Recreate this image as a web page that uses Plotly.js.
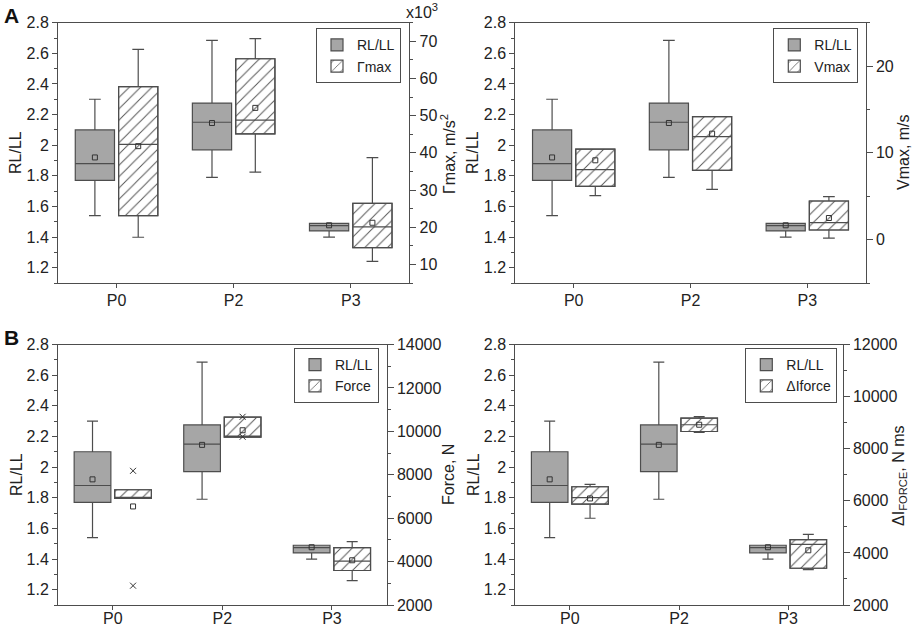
<!DOCTYPE html>
<html>
<head>
<meta charset="utf-8">
<script src="https://cdn.plot.ly/plotly-3.0.1.min.js"></script>
<style>
  body { margin: 0; background: #fff; }
  #graph { width: 913px; height: 629px; }
</style>
</head>
<body>
<div id="graph"></div>
<script>
// categories
var cats = ['P0', 'P2', 'P3'];

// RL/LL (same in every panel)
var rlMin  = [1.54, 1.79, 1.40];
var rlQ1   = [1.77, 1.97, 1.44];
var rlMed  = [1.88, 2.15, 1.475];
var rlQ3   = [2.10, 2.275, 1.49];
var rlMax  = [2.30, 2.685, 1.49];
var rlMean = [1.92, 2.145, 1.477];

// Γmax, x10^3 m/s²
var gMin  = [17.3, 34.8, 10.8];
var gQ1   = [23.1, 45.1, 14.5];
var gMed  = [42.3, 48.8, 20.1];
var gQ3   = [57.8, 65.3, 26.4];
var gMax  = [67.8, 70.7, 38.7];
var gMean = [41.8, 52.1, 21.2];

// Vmax, m/s
var vMin  = [5.07, 5.79, 0.18];
var vQ1   = [6.14, 7.98, 1.11];
var vMed  = [8.06, 11.87, 1.96];
var vQ3   = [10.44, 14.17, 4.45];
var vMax  = [10.44, 14.17, 4.95];
var vMean = [9.14, 12.21, 2.49];

// Force, N
var fMin  = [6910, 9730, 3120];
var fQ1   = [6910, 9730, 3590];
var fMed  = [6960, 9780, 4020];
var fQ3   = [7310, 10650, 4640];
var fMax  = [7310, 10650, 4920];
var fMean = [6540, 10050, 4060];
var fCrossCat = ['P0', 'P0', 'P2', 'P2'];
var fCrossVal = [8180, 2890, 10670, 9750];

// ΔIforce, N ms
var iMin  = [5330, 8630, 3360];
var iQ1   = [5870, 8660, 3410];
var iMed  = [6120, 8920, 4330];
var iQ3   = [6540, 9170, 4510];
var iMax  = [6630, 9230, 4710];
var iMean = [6090, 8920, 4100];

var off = 0.185, bw = 0.335;
var lineCol = '#4d4d4d';
var posL = cats.map(function(c, i) { return i - off; });
var posR = cats.map(function(c, i) { return i + off; });
function catPos(c) { return cats.indexOf(c) + off; }

var data = [];

function panel(xa, yl, yr, leg, name, st, cross) {
  // grey RL/LL box
  data.push({
    type: 'box', xaxis: xa, yaxis: yl, legend: leg, name: 'RL/LL',
    x: posL, q1: rlQ1, median: rlMed, q3: rlQ3, lowerfence: rlMin, upperfence: rlMax,
    width: bw, whiskerwidth: 0.3, boxpoints: false,
    fillcolor: '#a6a6a6', line: {color: lineCol, width: 1.2}
  });
  data.push({
    type: 'scatter', mode: 'markers', xaxis: xa, yaxis: yl, showlegend: false,
    x: posL, y: rlMean,
    marker: {symbol: 'square-open', size: 5, color: '#333', line: {width: 1, color: '#333'}}
  });
  // hatched box: pattern bar under a transparent box
  data.push({
    type: 'bar', xaxis: xa, yaxis: yr, legend: leg, name: name,
    x: posR, base: st.q1, y: st.q3.map(function(v, i) { return v - st.q1[i]; }),
    width: bw,
    marker: {color: 'white', line: {color: lineCol, width: 1.2},
      pattern: {shape: '/', fgcolor: '#555', bgcolor: 'white', size: 8, solidity: 0.12}}
  });
  data.push({
    type: 'box', xaxis: xa, yaxis: yr, showlegend: false, name: name,
    x: posR, q1: st.q1, median: st.med, q3: st.q3, lowerfence: st.min, upperfence: st.max,
    width: bw, whiskerwidth: 0.3, boxpoints: false,
    fillcolor: 'rgba(0,0,0,0)', line: {color: lineCol, width: 1.2}
  });
  data.push({
    type: 'scatter', mode: 'markers', xaxis: xa, yaxis: yr, showlegend: false,
    x: posR, y: st.mean,
    marker: {symbol: 'square-open', size: 5, color: '#333', line: {width: 1, color: '#333'}}
  });
  if (cross) {
    data.push({
      type: 'scatter', mode: 'markers', xaxis: xa, yaxis: yr, showlegend: false,
      x: cross.cat.map(catPos), y: cross.val,
      marker: {symbol: 'x-thin-open', size: 6, color: '#333', line: {width: 1, color: '#333'}}
    });
  }
}

panel('x', 'y', 'y2', 'legend', 'Γmax',
  {min: gMin, q1: gQ1, med: gMed, q3: gQ3, max: gMax, mean: gMean});
panel('x2', 'y3', 'y4', 'legend2', 'Vmax',
  {min: vMin, q1: vQ1, med: vMed, q3: vQ3, max: vMax, mean: vMean});
panel('x3', 'y5', 'y6', 'legend3', 'Force',
  {min: fMin, q1: fQ1, med: fMed, q3: fQ3, max: fMax, mean: fMean},
  {cat: fCrossCat, val: fCrossVal});
panel('x4', 'y7', 'y8', 'legend4', 'ΔIforce',
  {min: iMin, q1: iQ1, med: iMed, q3: iQ3, max: iMax, mean: iMean});

var W = 913, H = 629;
function xd(a, b) { return [a / W, b / W]; }
function yd(top, bot) { return [1 - bot / H, 1 - top / H]; }

function xAxis(dom, anchor, standoff) {
  return {
    domain: dom, anchor: anchor, range: [-0.5, 2.5],
    tickvals: [0, 1, 2], ticktext: cats,
    ticks: 'outside', ticklen: 4, tickcolor: lineCol, ticklabelstandoff: standoff,
    showline: true, linecolor: lineCol, linewidth: 1, mirror: true,
    showgrid: false, zeroline: false
  };
}
function leftAxis(dom, anchor) {
  return {
    domain: dom, anchor: anchor, range: [1.1, 2.8], dtick: 0.2, tick0: 1.2,
    ticks: 'outside', ticklen: 5, tickcolor: lineCol,
    minor: {ticks: 'outside', ticklen: 3, dtick: 0.1, tickcolor: lineCol},
    showline: true, linecolor: lineCol, linewidth: 1,
    showgrid: false, zeroline: false
  };
}
function rightAxis(over, anchor, rng, dt, mdt, fmt) {
  return {
    overlaying: over, anchor: anchor, side: 'right', range: rng,
    dtick: dt, tick0: 0, tickformat: fmt,
    ticks: 'outside', ticklen: 6, tickcolor: lineCol,
    minor: {ticks: 'outside', ticklen: 3, dtick: mdt, tickcolor: lineCol},
    showline: true, linecolor: lineCol, linewidth: 1,
    showgrid: false, zeroline: false
  };
}
function legendAt(x, y) {
  return {
    x: x, y: y, xanchor: 'right', yanchor: 'top',
    bgcolor: 'white', bordercolor: lineCol, borderwidth: 1,
    font: {size: 14}, tracegroupgap: 0, itemwidth: 30
  };
}
function vTitle(text, x, y) {
  return {text: text, xref: 'paper', yref: 'paper', x: x / W, y: 1 - y / H,
    xanchor: 'center', yanchor: 'middle', textangle: -90, showarrow: false,
    font: {size: 16}};
}

var topRow = yd(22.7, 283), botRow = yd(344.5, 605);

var layout = {
  width: W, height: H,
  margin: {l: 0, r: 0, t: 0, b: 0},
  paper_bgcolor: 'white', plot_bgcolor: 'white',
  font: {family: 'Liberation Sans, Arial, sans-serif', size: 16, color: '#222'},
  showlegend: true, hovermode: false,
  xaxis: xAxis(xd(58, 409.3), 'y', -1),
  yaxis: leftAxis(topRow, 'x'),
  yaxis2: rightAxis('y', 'x', [5, 75], 10, 5),
  xaxis2: xAxis(xd(515.3, 865.7), 'y3', -1),
  yaxis3: leftAxis(topRow, 'x2'),
  yaxis4: rightAxis('y3', 'x2', [-5, 25], 10, 5),
  xaxis3: xAxis(xd(58, 386.7), 'y5', -5),
  yaxis5: leftAxis(botRow, 'x3'),
  yaxis6: rightAxis('y5', 'x3', [2000, 14000], 2000, 1000, 'd'),
  xaxis4: xAxis(xd(515.3, 842.7), 'y7', -5),
  yaxis7: leftAxis(botRow, 'x4'),
  yaxis8: rightAxis('y7', 'x4', [2000, 12000], 2000, 1000, 'd'),
  legend: legendAt(401 / W, 1 - 28.3 / H),
  legend2: legendAt(858.3 / W, 1 - 28.3 / H),
  legend3: legendAt(379 / W, 1 - 348 / H),
  legend4: legendAt(837.3 / W, 1 - 348 / H),
  annotations: [
    {text: '<b>A</b>', xref: 'paper', yref: 'paper', x: 0.002, y: 1 - 2 / H,
      xanchor: 'left', yanchor: 'top', showarrow: false, font: {size: 21, color: '#111'}},
    {text: '<b>B</b>', xref: 'paper', yref: 'paper', x: 0.002, y: 1 - 324 / H,
      xanchor: 'left', yanchor: 'top', showarrow: false, font: {size: 21, color: '#111'}},
    {text: 'x10<sup>3</sup>', xref: 'paper', yref: 'paper', x: 422 / W, y: 1 - 11 / H,
      xanchor: 'center', yanchor: 'middle', showarrow: false, font: {size: 16}},
    vTitle('RL/LL', 16, 153),
    vTitle('RL/LL', 473, 153),
    vTitle('RL/LL', 16, 475),
    vTitle('RL/LL', 473, 475),
    vTitle('Γmax, m/s<sup>2</sup>', 448, 154),
    vTitle('Vmax, m/s', 903, 152),
    vTitle('Force, N', 448, 475),
    vTitle('ΔI<sub>FORCE</sub>, N ms', 899, 476)
  ]
};

Plotly.newPlot('graph', data, layout, {displayModeBar: false, staticPlot: true});
</script>
</body>
</html>
